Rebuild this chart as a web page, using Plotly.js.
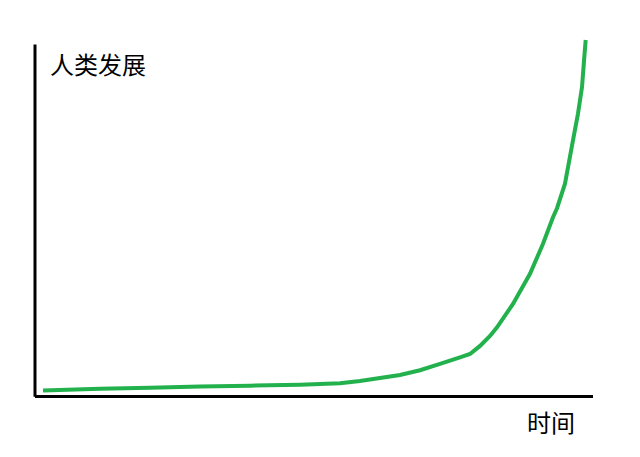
<!DOCTYPE html>
<html>
<head>
<meta charset="utf-8">
<script src="https://cdn.plot.ly/plotly-3.0.1.min.js"></script>
<style>
  html, body { margin: 0; padding: 0; background: #fff; }
  #chart { width: 640px; height: 457px; }
</style>
</head>
<body>
<div id="chart"></div>
<script>
// Time (0-100) against human development (0-100)
var time = [1.43, 11.65, 20.61, 29.57, 38.53, 47.49, 54.66, 58.24, 61.83, 65.41,
            69.0, 72.58, 76.16, 77.96, 79.75, 81.54, 82.8, 85.66, 88.71, 91.04,
            92.83, 93.55, 94.98, 96.42, 97.31, 98.03, 98.44, 98.69];
var development = [1.29, 1.77, 2.09, 2.43, 2.66, 2.94, 3.37, 4.0, 4.86, 5.71,
                   7.06, 8.86, 10.71, 11.71, 14.0, 16.86, 19.29, 26.0, 34.57, 43.14,
                   50.71, 53.29, 60.29, 72.71, 80.29, 87.86, 96.43, 101.29];

var yLabel = '人类发展';
var xLabel = '时间';

var trace = {
    x: time,
    y: development,
    mode: 'lines',
    line: { color: '#22b14c', width: 4, simplify: false },
    hoverinfo: 'skip'
};

var cjk = '"Noto Sans CJK SC", "Microsoft YaHei", sans-serif';

var layout = {
    width: 640,
    height: 457,
    margin: { l: 35, r: 47, t: 30, b: 62, pad: 0 },
    paper_bgcolor: '#fff',
    plot_bgcolor: '#fff',
    showlegend: false,
    xaxis: {
        range: [0, 100],
        showline: true,
        linecolor: '#000',
        linewidth: 3,
        showgrid: false,
        zeroline: false,
        showticklabels: false,
        ticks: ''
    },
    yaxis: {
        range: [0, 104.14],
        showline: false,
        showgrid: false,
        zeroline: false,
        showticklabels: false,
        ticks: ''
    },
    // y axis line stops below the top of the curve
    shapes: [{
        type: 'line',
        xref: 'paper', yref: 'paper',
        x0: 0, x1: 0, y0: -0.005, y1: 0.9602,
        line: { color: '#000', width: 3 }
    }],
    annotations: [
        {
            text: yLabel,
            xref: 'paper', yref: 'paper',
            x: 0.0233, y: 0.908,
            xanchor: 'left', yanchor: 'middle',
            showarrow: false,
            font: { family: cjk, size: 24, color: '#000' }
        },
        {
            text: xLabel,
            xref: 'paper', yref: 'paper',
            x: 0.879, y: -0.0727,
            xanchor: 'left', yanchor: 'middle',
            showarrow: false,
            font: { family: cjk, size: 24, color: '#000' }
        }
    ]
};

Plotly.newPlot('chart', [trace], layout, { displayModeBar: false, staticPlot: true });
</script>
</body>
</html>
